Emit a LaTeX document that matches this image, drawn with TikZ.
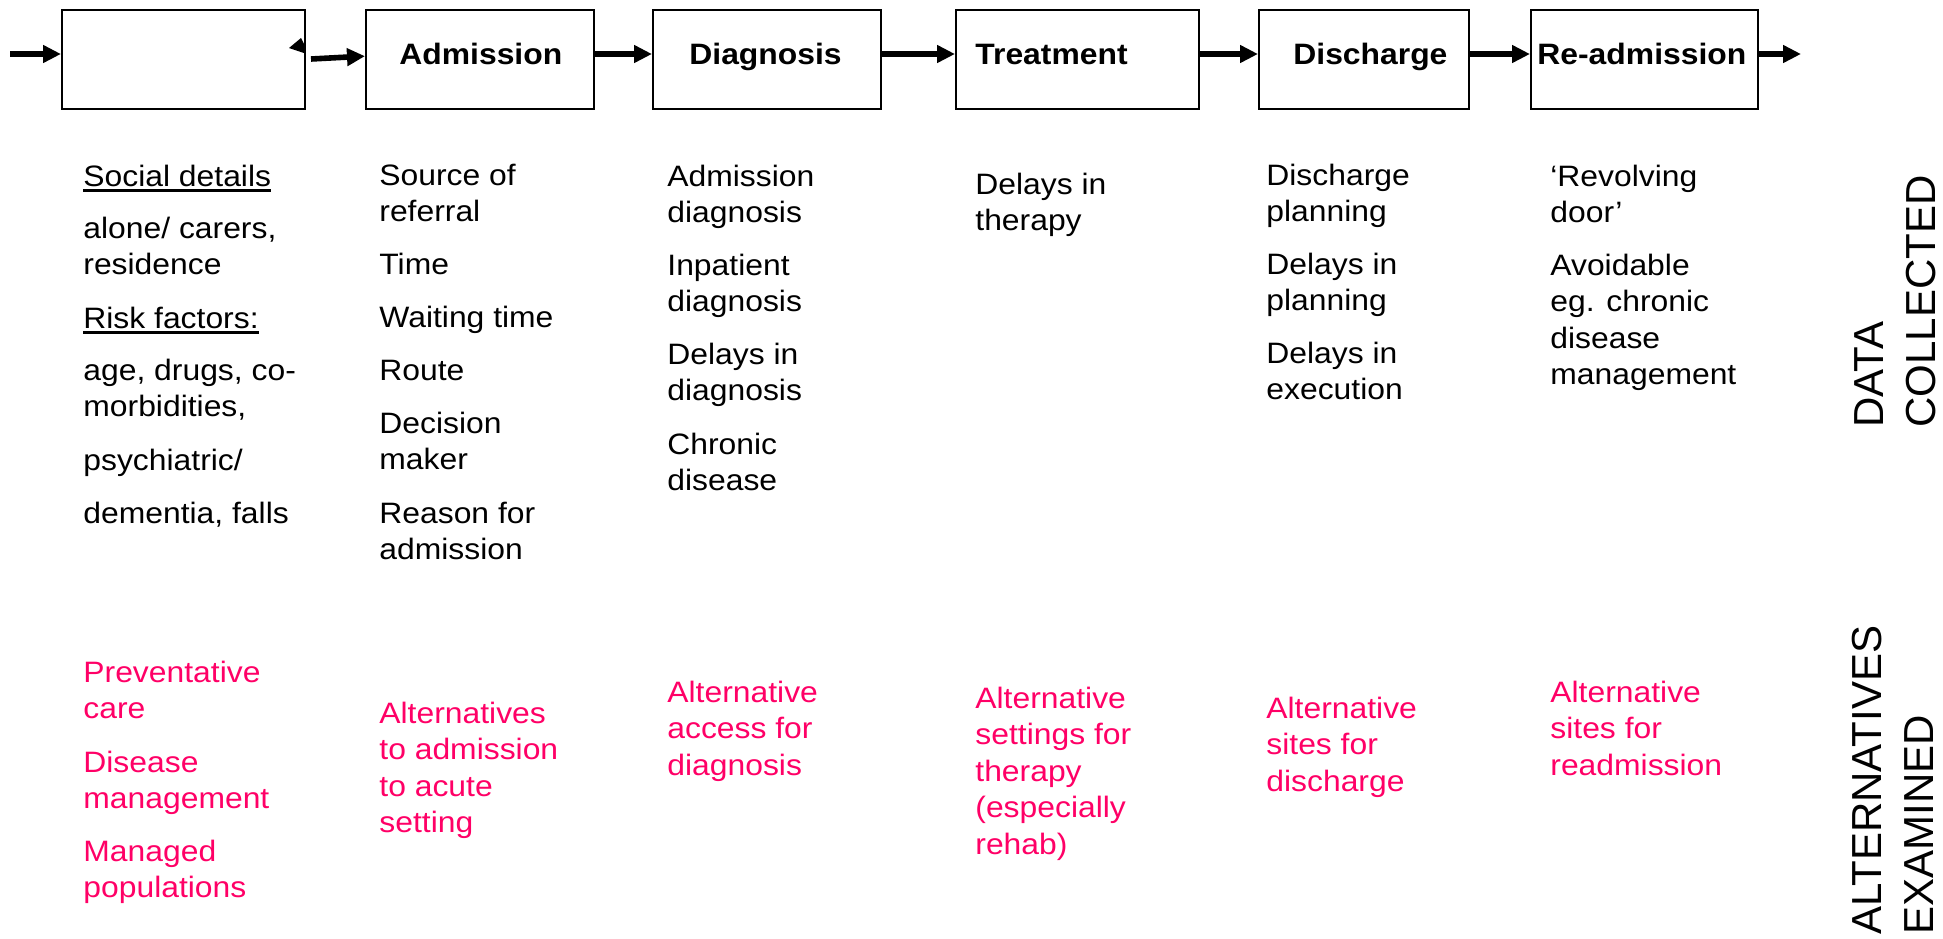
\documentclass[tikz,border=0pt]{standalone}
\usepackage{fontspec}
\setmainfont[FakeStretch=1.08]{Liberation Sans}
\newfontfamily\rotfont{Liberation Sans}
\usetikzlibrary{arrows.meta}
\definecolor{altpink}{RGB}{255,0,102}
\newcommand{\myul}[1]{\sbox0{#1}\rlap{\rule[-3.15pt]{\wd0}{1.5pt}}\usebox0}
\begin{document}
\begin{tikzpicture}[x=0.5pt,y=-0.5pt,
  stage/.style={draw=black, line width=0.85pt, anchor=north west, inner sep=0, minimum height=49.5pt},
  lab/.style={anchor=base west, inner sep=0, font=\bfseries\fontsize{14.75}{18}\selectfont},
  txt/.style={anchor=base west, inner sep=0, align=left, font=\fontsize{14.75}{18.25}\selectfont},
  alt/.style={txt, text=altpink},
  rot/.style={rotate=90, anchor=south west, inner sep=0, align=left, font=\rotfont\fontsize{21}{26}\selectfont},
  flow/.style={line width=2.8pt, -{Triangle[length=9pt,width=8.5pt]}}]
\useasboundingbox (0,0) rectangle (1943,938);
% stage boxes
\node[stage, minimum width=121.5pt] (b0) at (61,9) {};
\node[stage, minimum width=114pt]   (b1) at (365,9) {};
\node[stage, minimum width=114pt]   (b2) at (652,9) {};
\node[stage, minimum width=121.5pt] (b3) at (955,9) {};
\node[stage, minimum width=105pt]   (b4) at (1258,9) {};
\node[stage, minimum width=113.5pt] (b5) at (1530,9) {};
% labels
\node[lab] (l1) at (399,64) {Admission};
\node[lab] (l2) at (689,64) {Diagnosis};
\node[lab] (l3) at (975,64) {Treatment};
\node[lab] (l4) at (1293,64) {Discharge};
\node[lab] (l5) at (1537,64) {Re-admission};
% connectors
\coordinate (in0) at (10,54);
\coordinate (s0) at (311,59);
\coordinate (out) at (1801,54);
\draw[flow] (in0) -- (in0 -| b0.west);
\draw[flow] (s0) -- ([yshift=1.6pt]b1.west);
\draw[flow] (b1.east |- in0) -- (b2.west |- in0);
\draw[flow] (b2.east |- in0) -- (b3.west |- in0);
\draw[flow] (b3.east |- in0) -- (b4.west |- in0);
\draw[flow] (b4.east |- in0) -- (b5.west |- in0);
\draw[flow] (b5.east |- in0) -- (out);
\fill (289,48) -- (301,38) -- (304,44) -- (304,53) -- cycle;
% data collected (anchor = baseline of last line)
\node[txt] (c1a) at (83,186) {\myul{Social details}};
\node[txt] (c1b) at (83,274.5) {alone/ carers,\\residence};
\node[txt] (c1c) at (83,328) {\myul{Risk factors:}};
\node[txt] (c1d) at (83,416.5) {age, drugs, co-\\morbidities,};
\node[txt] (c1e) at (83,470) {psychiatric/};
\node[txt] (c1f) at (83,523) {dementia, falls};
\node[txt] (c2a) at (379,221.5) {Source of\\referral};
\node[txt] (c2b) at (379,274) {Time};
\node[txt] (c2c) at (379,327) {Waiting time};
\node[txt] (c2d) at (379,380) {Route};
\node[txt] (c2e) at (379,469.5) {Decision\\maker};
\node[txt] (c2f) at (379,559.5) {Reason for\\admission};
\node[txt] (c3a) at (667,222.5) {Admission\\diagnosis};
\node[txt] (c3b) at (667,311.5) {Inpatient\\diagnosis};
\node[txt] (c3c) at (667,400.5) {Delays in\\diagnosis};
\node[txt] (c3d) at (667,490.5) {Chronic\\disease};
\node[txt] (c4a) at (975,230.5) {Delays in\\therapy};
\node[txt] (c5a) at (1266,221.5) {Discharge\\planning};
\node[txt] (c5b) at (1266,310.5) {Delays in\\planning};
\node[txt] (c5c) at (1266,399.5) {Delays in\\execution};
\node[txt] (c6a) at (1550,222.5) {‘Revolving\\door’};
\node[txt] (c6b) at (1550,384.5) {Avoidable\\eg. chronic\\disease\\management};
% alternatives
\node[alt] (p1a) at (83,718.5) {Preventative\\care};
\node[alt] (p1b) at (83,808.5) {Disease\\management};
\node[alt] (p1c) at (83,897.5) {Managed\\populations};
\node[alt] (p2) at (379,832.5) {Alternatives\\to admission\\to acute\\setting};
\node[alt] (p3) at (667,775) {Alternative\\access for\\diagnosis};
\node[alt] (p4) at (975,854) {Alternative\\settings for\\therapy\\(especially\\rehab)};
\node[alt] (p5) at (1266,791) {Alternative\\sites for\\discharge};
\node[alt] (p6) at (1550,775) {Alternative\\sites for\\readmission};
% side titles
\node[rot] (dc) at (1936,428) {DATA\\COLLECTED};
\node[rot] (ae) at (1934,935) {ALTERNATIVES\\EXAMINED};
\end{tikzpicture}
\end{document}
